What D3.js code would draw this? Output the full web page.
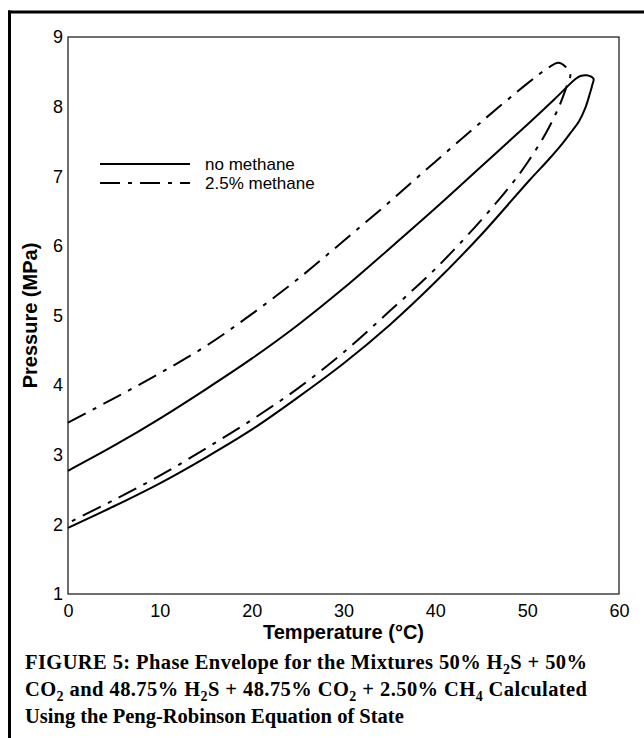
<!DOCTYPE html>
<html>
<head>
<meta charset="utf-8">
<script src="https://cdn.jsdelivr.net/npm/d3@7"></script>
<style>
  html, body { margin: 0; padding: 0; background: #fff; }
  svg { display: block; }
</style>
</head>
<body>
<svg id="chart" width="644" height="738"></svg>
<script>
// Phase envelope data: temperature (°C) and pressure (MPa)
// 50% H2S + 50% CO2: bubble branch up, round the top, dew branch back down
const noMethaneT = [0, 5, 10, 15, 20, 25, 30, 35, 40, 45, 50, 53, 55.2, 55.8, 56.5, 57.22,
                    57.09, 56.79, 56.3, 55.65, 54.88, 53.9, 52.27, 50.3, 45, 40, 35, 30, 25, 20, 15, 10, 5, 0];
const noMethaneP = [2.77, 3.13, 3.52, 3.94, 4.38, 4.86, 5.39, 5.96, 6.54, 7.14, 7.74, 8.11, 8.39, 8.44, 8.45, 8.40,
                    8.31, 8.17, 7.97, 7.79, 7.65, 7.48, 7.23, 6.95, 6.16, 5.48, 4.86, 4.31, 3.82, 3.36, 2.96, 2.59, 2.26, 1.95];

// 48.75% H2S + 48.75% CO2 + 2.50% CH4
const methaneT = [0, 5, 10, 15, 20, 25, 30, 35, 40, 45, 50, 52, 53.4, 54.2, 54.7,
                  54.3, 53.5, 52, 50, 48.5, 45, 40, 35, 30, 25, 20, 15, 10, 5, 0];
const methaneP = [3.46, 3.81, 4.17, 4.56, 5.02, 5.52, 6.07, 6.63, 7.21, 7.78, 8.33, 8.53, 8.63, 8.57, 8.46,
                  8.29, 8.01, 7.61, 7.19, 6.92, 6.37, 5.67, 5.06, 4.47, 3.95, 3.50, 3.09, 2.70, 2.35, 2.02];

const xTicks = [0, 10, 20, 30, 40, 50, 60];
const yTicks = [1, 2, 3, 4, 5, 6, 7, 8, 9];
const seriesNames = ["no methane", "2.5% methane"];

const svg = d3.select("#chart");
const plot = { left: 68, top: 37, right: 619, bottom: 594 };
const sans = "Liberation Sans, Arial, sans-serif";
const serif = "Liberation Serif, Times New Roman, serif";

const x = d3.scaleLinear().domain([0, 60]).range([plot.left, plot.right]);
const y = d3.scaleLinear().domain([1, 9]).range([plot.bottom, plot.top]);

// Outer figure frame: heavy rule on the left and along the top
svg.append("line").attr("x1", 9.5).attr("y1", 10.5).attr("x2", 9.5).attr("y2", 738)
  .attr("stroke", "#000").attr("stroke-width", 3);
svg.append("line").attr("x1", 8).attr("y1", 12).attr("x2", 644).attr("y2", 12)
  .attr("stroke", "#000").attr("stroke-width", 3);

// Plot box
svg.append("rect")
  .attr("x", plot.left).attr("y", plot.top)
  .attr("width", plot.right - plot.left).attr("height", plot.bottom - plot.top)
  .attr("fill", "none").attr("stroke", "#111").attr("stroke-width", 1.2);

// Axes: labels only, no tick marks
const xAxis = d3.axisBottom(x).tickValues(xTicks).tickSize(0).tickPadding(10).tickFormat(d3.format("d"));
const yAxis = d3.axisLeft(y).tickValues(yTicks).tickSize(0).tickPadding(5).tickFormat(d3.format("d"));

const gx = svg.append("g").attr("transform", `translate(0,${plot.bottom})`).call(xAxis);
const gy = svg.append("g").attr("transform", `translate(${plot.left},0)`).call(yAxis);
[gx, gy].forEach(g => {
  g.attr("font-size", null).attr("font-family", null);
  g.select(".domain").remove();
  g.selectAll("text")
    .style("font-family", sans)
    .style("font-size", "18px").attr("fill", "#000");
});

// Axis titles
svg.append("text")
  .attr("x", (plot.left + plot.right) / 2).attr("y", 639)
  .attr("text-anchor", "middle")
  .style("font-family", sans)
  .style("font-weight", "bold").style("font-size", "20px")
  .text("Temperature (°C)");

svg.append("text")
  .attr("transform", `translate(37,${(plot.top + plot.bottom) / 2}) rotate(-90)`)
  .attr("text-anchor", "middle")
  .style("font-family", sans)
  .style("font-weight", "bold").style("font-size", "20px")
  .text("Pressure (MPa)");

// Envelope curves
const line = d3.line()
  .x(d => x(d[0])).y(d => y(d[1]))
  .curve(d3.curveCatmullRom.alpha(0.5));

const dashPattern = "20,8,4,8";

svg.append("path")
  .datum(d3.zip(noMethaneT, noMethaneP))
  .attr("d", line)
  .attr("fill", "none").attr("stroke", "#000").attr("stroke-width", 2);

svg.append("path")
  .datum(d3.zip(methaneT, methaneP))
  .attr("d", line)
  .attr("fill", "none").attr("stroke", "#000").attr("stroke-width", 2)
  .attr("stroke-dasharray", dashPattern);

// Legend
const legend = svg.append("g");
const legendRows = [
  { name: seriesNames[0], y: 164, dash: null },
  { name: seriesNames[1], y: 183, dash: dashPattern }
];
legendRows.forEach(r => {
  legend.append("line")
    .attr("x1", 100).attr("x2", 190).attr("y1", r.y).attr("y2", r.y)
    .attr("stroke", "#000").attr("stroke-width", 2)
    .attr("stroke-dasharray", r.dash);
  legend.append("text")
    .attr("x", 205).attr("y", r.y + 6)
    .style("font-family", sans)
    .style("font-size", "17px").attr("fill", "#000")
    .text(r.name);
});

// Figure caption, one text element per line; {sub: "..."} parts are subscripts.
// Full lines are justified to the caption width, the last line is left ragged.
const captionLeft = 25, captionRight = 587;
function captionLine(yPos, parts, justify) {
  const t = svg.append("text")
    .attr("x", captionLeft).attr("y", yPos)
    .style("font-family", serif)
    .style("font-weight", "bold").style("font-size", "20.5px").attr("fill", "#000");
  let shifted = false;
  parts.forEach(p => {
    if (typeof p === "string") {
      t.append("tspan").attr("dy", shifted ? -5 : 0).text(p);
      shifted = false;
    } else {
      t.append("tspan").style("font-size", "14px").attr("dy", 5).text(p.sub);
      shifted = true;
    }
  });
  if (justify) {
    t.attr("textLength", captionRight - captionLeft).attr("lengthAdjust", "spacing");
  }
}
captionLine(669, ["FIGURE 5: Phase Envelope for the Mixtures 50% H", { sub: "2" }, "S + 50%"], true);
captionLine(696, ["CO", { sub: "2" }, " and 48.75% H", { sub: "2" }, "S + 48.75% CO", { sub: "2" }, " + 2.50% CH", { sub: "4" }, " Calculated"], true);
captionLine(723, ["Using the Peng-Robinson Equation of State"], false);
</script>
</body>
</html>
